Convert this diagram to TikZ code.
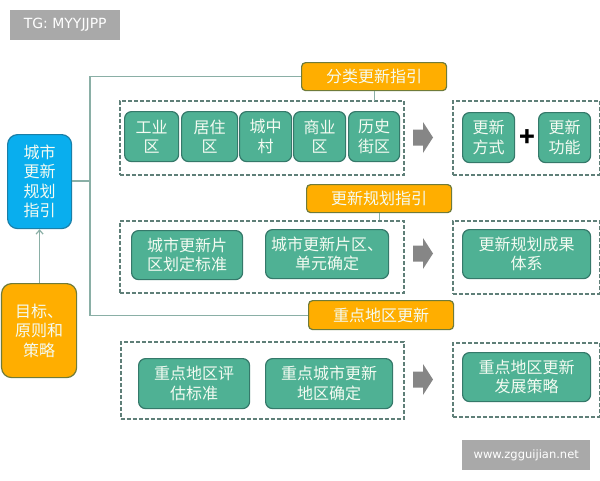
\documentclass[tikz,border=0pt]{standalone}
\usepackage{fontspec}
\setmainfont{Noto Sans CJK SC}
\newfontfamily\latinf{DejaVu Sans}
\usetikzlibrary{arrows.meta}
\definecolor{tealf}{HTML}{4FB194}
\definecolor{teald}{HTML}{35796A}
\definecolor{orangef}{HTML}{FFAE00}
\definecolor{oranged}{HTML}{6F7B3A}
\definecolor{bluef}{HTML}{09AEEE}
\definecolor{blued}{HTML}{1A7FA8}
\definecolor{linec}{HTML}{8AAFA6}
\definecolor{dashc}{HTML}{5F7F78}
\definecolor{greyw}{HTML}{A9A9A9}
\definecolor{txt}{HTML}{F4FBF2}
\tikzset{
  boxbase/.style={rounded corners=7pt,line width=1.2pt,align=center,text=txt,
    font=\fontsize{16}{19.5}\selectfont,inner sep=0pt},
  tealbox/.style={boxbase,draw=teald,fill=tealf},
  orangebox/.style={boxbase,draw=oranged,fill=orangef,rounded corners=4pt,text=txt},
  bigorange/.style={boxbase,draw=oranged,fill=orangef,rounded corners=10pt},
  bluebox/.style={boxbase,draw=blued,fill=bluef,rounded corners=10pt},
  dashbox/.style={draw=dashc,line width=1.5pt,dash pattern=on 4pt off 2pt,inner sep=0pt},
  conn/.style={draw=linec,line width=1.2pt},
  wm/.style={fill=greyw,text=white,inner sep=0pt},
  bigarrow/.style={fill=gray!95!white,draw=none},
}
\newcommand{\bx}[6]{% name, style, x1, y1, x2, y2 -- text follows
  \node[#2,minimum width=#5pt-#3pt,minimum height=#6pt-#4pt,anchor=north west] (#1) at (#3pt,-#4pt)}
\newcommand{\garrow}[1]{% y top
  \fill[bigarrow] (413pt,-#1pt-7.5pt) -- (423pt,-#1pt-7.5pt) -- (423pt,-#1pt) -- (433pt,-#1pt-15.5pt) -- (423pt,-#1pt-31pt) -- (423pt,-#1pt-23.5pt) -- (413pt,-#1pt-23.5pt) -- cycle;}
\begin{document}
\begin{tikzpicture}[x=1pt,y=1pt]
\useasboundingbox (0pt,0pt) rectangle (600pt,-480pt);
\fill[white] (0pt,0pt) rectangle (600pt,-480pt);
% watermarks
\bx{tg}{wm,font=\latinf\fontsize{14}{16}\selectfont}{10}{10}{120}{40} {TG: MYYJJPP};
\bx{web}{wm,font=\latinf\fontsize{11.5}{14}\selectfont}{462}{440}{590}{470} {www.zgguijian.net};
% dashed groups
\bx{da}{dashbox}{119}{100}{403}{174} {};
\bx{db}{dashbox}{452}{100}{598.5}{174} {};
\bx{dc}{dashbox}{119}{220}{403}{292} {};
\bx{dd}{dashbox}{452}{220}{598.5}{293} {};
\bx{de}{dashbox}{120}{341}{403}{418} {};
\bx{df}{dashbox}{452}{342}{598.5}{416} {};
% left column
\bx{guide}{bluebox}{7}{134}{71}{228} {城市\\更新\\规划\\指引};
\bx{goal}{bigorange}{1}{283}{76}{377} {目标、\\原则和\\策略};
% headers
\bx{ha}{orangebox}{301}{62}{446}{90} {分类更新指引};
\bx{hb}{orangebox}{306}{184}{451}{212} {更新规划指引};
\bx{hc}{orangebox}{308}{300}{453}{329} {重点地区更新};
% row 1
\bx{a1}{tealbox}{124}{111}{178}{161} {工业\\区};
\bx{a2}{tealbox}{181}{111}{237}{161} {居住\\区};
\bx{a3}{tealbox}{239}{111}{291}{161} {城中\\村};
\bx{a4}{tealbox}{293}{111}{345}{161} {商业\\区};
\bx{a5}{tealbox}{348}{111}{399}{161} {历史\\街区};
\bx{r1}{tealbox}{462}{112}{514}{162} {更新\\方式};
\bx{r2}{tealbox}{538}{112}{590}{162} {更新\\功能};
\node[font=\fontsize{26}{26}\selectfont\bfseries,text=black,inner sep=0pt] (plus) at (527pt,-138pt) {+};
% row 2
\bx{b1}{tealbox}{131}{230}{242}{279} {城市更新片\\区划定标准};
\bx{b2}{tealbox}{265}{229}{388}{278} {城市更新片区、\\单元确定};
\bx{b3}{tealbox}{462}{229}{590}{278} {更新规划成果\\体系};
% row 3
\bx{c1}{tealbox}{138}{358}{249}{408} {重点地区评\\估标准};
\bx{c2}{tealbox}{265}{358}{392}{408} {重点城市更新\\地区确定};
\bx{c3}{tealbox}{462}{352}{590}{401} {重点地区更新\\发展策略};
% arrows
\garrow{122}
\garrow{238}
\garrow{364}
% connectors
\coordinate (j) at (90pt,-181pt);
\draw[conn] (guide.east |- j) -- (j);
\draw[conn] (ha.west) -| (j);
\draw[conn] (hc.west) -| (j);
\draw[conn] (ha.south) ++(0.5pt,0pt) -- ++(0pt,-10pt);
\draw[conn] (hb.south) -- (hb.south |- dc.north);
\draw[conn,-{Straight Barb[length=4pt,width=7pt]}] (goal.north -| guide.south) -- (guide.south);
\end{tikzpicture}
\end{document}
